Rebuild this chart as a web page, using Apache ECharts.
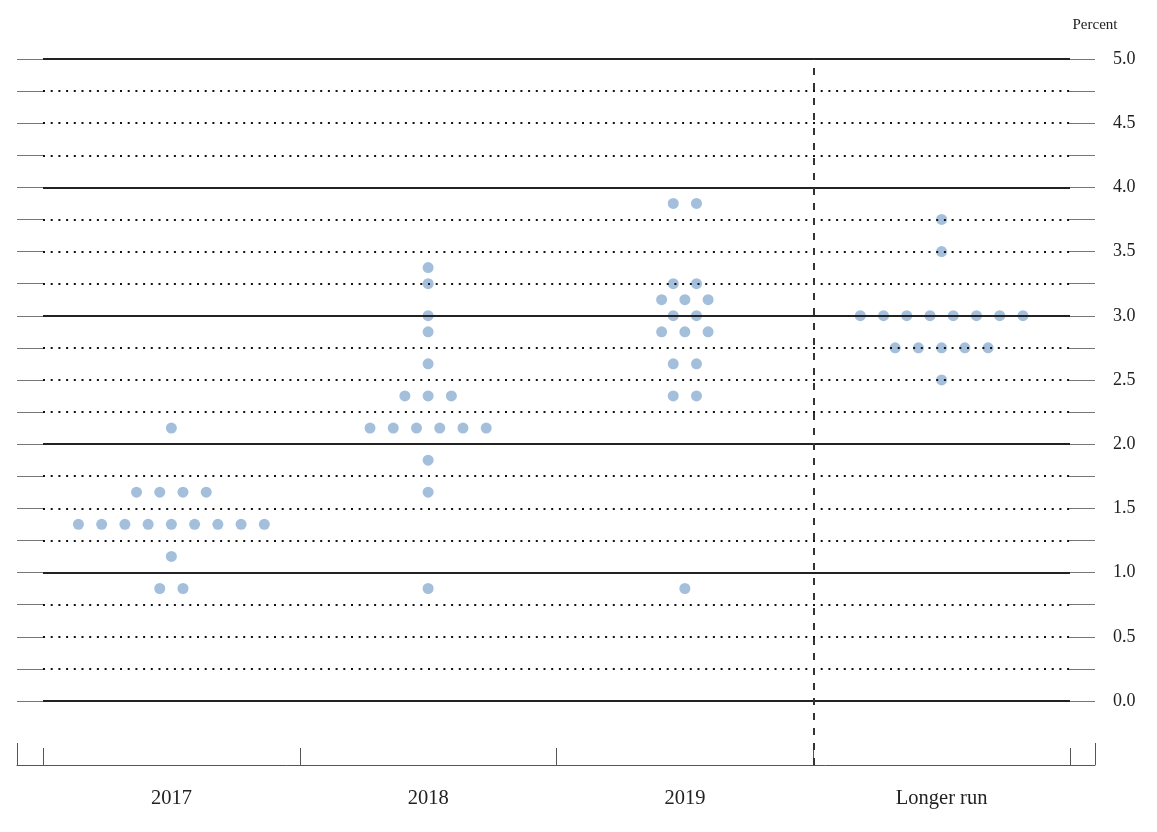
<!DOCTYPE html>
<html>
<head>
<meta charset="utf-8">
<script src="https://cdn.jsdelivr.net/npm/echarts@6/dist/echarts.min.js"></script>
<style>
html,body{margin:0;padding:0;background:#fff;}
#chart{width:1157px;height:832px;}
</style>
</head>
<body>
<div id="chart"></div>
<script>
// ---- Data ----
const categories = ['2017', '2018', '2019', 'Longer run'];
// Each entry is one participant's projection (midpoint of target range), percent
const dots2017 = [2.125,
  1.625, 1.625, 1.625, 1.625,
  1.375, 1.375, 1.375, 1.375, 1.375, 1.375, 1.375, 1.375, 1.375,
  1.125,
  0.875, 0.875];
const dots2018 = [3.375, 3.25, 3.0, 2.875, 2.625,
  2.375, 2.375, 2.375,
  2.125, 2.125, 2.125, 2.125, 2.125, 2.125,
  1.875, 1.625, 0.875];
const dots2019 = [3.875, 3.875,
  3.25, 3.25,
  3.125, 3.125, 3.125,
  3.0, 3.0,
  2.875, 2.875, 2.875,
  2.625, 2.625,
  2.375, 2.375,
  0.875];
const dotsLongerRun = [3.75, 3.5,
  3.0, 3.0, 3.0, 3.0, 3.0, 3.0, 3.0, 3.0,
  2.75, 2.75, 2.75, 2.75, 2.75,
  2.5];
const yTickLabels = ['0.0', '0.5', '1.0', '1.5', '2.0', '2.5', '3.0', '3.5', '4.0', '4.5', '5.0'];
const solidLevels = [0, 1, 2, 3, 4, 5];
const dottedLevels = [0.25, 0.5, 0.75, 1.25, 1.5, 1.75, 2.25, 2.5, 2.75,
  3.25, 3.5, 3.75, 4.25, 4.5, 4.75];
const dividerPosition = 3; // between 2019 and Longer run

// ---- Layout / style constants ----
const DOT_SPACING = 0.0905; // in category units
const FONT = '"Liberation Serif", "DejaVu Serif", serif';
const DOT_COLOR = '#8cafd3';

function spread(values, catIndex) {
  const counts = {}, seen = {};
  values.forEach(v => { counts[v] = (counts[v] || 0) + 1; });
  return values.map(v => {
    const i = seen[v] || 0; seen[v] = i + 1;
    const n = counts[v];
    return [catIndex + 0.5 + (i - (n - 1) / 2) * DOT_SPACING, v];
  });
}
const allDots = [dots2017, dots2018, dots2019, dotsLongerRun]
  .map((arr, k) => spread(arr, k)).flat();

const chart = echarts.init(document.getElementById('chart'), null, {renderer: 'canvas'});
const noAxis = {axisLine: {show: false}, axisTick: {show: false}, axisLabel: {show: false}, splitLine: {show: false}};
const sideTicks = {axisLine: {show: false},
  axisTick: {show: true, inside: true, length: 26, lineStyle: {color: '#777', width: 1}},
  splitLine: {show: false}};
const mlBase = {silent: true, symbol: ['none', 'none'], label: {show: false}, animation: false};

chart.setOption({
  animation: false,
  backgroundColor: '#fff',
  grid: [
    {left: 43, right: 87, top: 59, bottom: 67},   // plot
    {left: 17, right: 62, top: 59, bottom: 67},   // outer frame (bottom axis)
    {left: 17, right: 62, top: 59, bottom: 131}   // side ticks 0..5
  ],
  xAxis: [
    Object.assign({type: 'value', gridIndex: 0, min: 0, max: 4, interval: 1, show: false}, noAxis),
    {type: 'category', gridIndex: 0, data: categories, position: 'bottom',
     axisLine: {show: false, onZero: false},
     axisTick: {show: true, inside: true, length: 17, lineStyle: {color: '#555', width: 1}},
     axisLabel: {fontFamily: FONT, fontSize: 20.5, color: '#222', margin: 23},
     splitLine: {show: false}},
    {type: 'value', gridIndex: 1, min: 0, max: 1, interval: 1, position: 'bottom',
     axisLine: {show: true, onZero: false, lineStyle: {color: '#555', width: 1}},
     axisTick: {show: true, inside: true, length: 22, lineStyle: {color: '#555', width: 1}},
     axisLabel: {show: false}, splitLine: {show: false}},
    Object.assign({type: 'value', gridIndex: 2, min: 0, max: 1, show: false}, noAxis)
  ],
  yAxis: [
    Object.assign({type: 'value', gridIndex: 0, min: -0.5, max: 5, show: false}, noAxis),
    Object.assign({type: 'value', gridIndex: 1, min: -0.5, max: 5, show: false}, noAxis),
    Object.assign({type: 'value', gridIndex: 2, position: 'left', min: 0, max: 5, interval: 0.25,
     axisLabel: {show: false}}, sideTicks),
    Object.assign({type: 'value', gridIndex: 2, position: 'right', min: 0, max: 5, interval: 0.25,
     name: 'Percent', nameLocation: 'end', nameGap: 26,
     nameTextStyle: {fontFamily: FONT, fontSize: 15, color: '#222', align: 'center'},
     axisLabel: {show: true, fontFamily: FONT, fontSize: 18, color: '#222', margin: 18,
       formatter: v => {
         const s = v.toFixed(1);
         return (Math.abs(v * 2 - Math.round(v * 2)) < 1e-9 && yTickLabels.indexOf(s) >= 0) ? s : '';
       }}}, sideTicks)
  ],
  series: [
    {
      type: 'scatter', xAxisIndex: 0, yAxisIndex: 0, z: 1,
      symbol: 'circle', symbolSize: 11,
      itemStyle: {color: DOT_COLOR},
      data: allDots, silent: true
    },
    {
      type: 'scatter', xAxisIndex: 0, yAxisIndex: 0, z: 5, data: [], silent: true,
      markLine: Object.assign({}, mlBase, {
        lineStyle: {type: [2, 5.7], width: 2, color: '#111'},
        data: dottedLevels.map(v => ({yAxis: v}))
      })
    },
    {
      type: 'scatter', xAxisIndex: 0, yAxisIndex: 0, z: 6, data: [], silent: true,
      markLine: Object.assign({}, mlBase, {
        lineStyle: {type: 'solid', width: 2, color: '#222'},
        data: solidLevels.map(v => ({yAxis: v}))
      })
    },
    {
      type: 'scatter', xAxisIndex: 0, yAxisIndex: 0, z: 7, data: [], silent: true,
      markLine: Object.assign({}, mlBase, {
        lineStyle: {type: [7, 8], width: 2, color: '#333'},
        data: [{xAxis: dividerPosition}]
      })
    }
  ]
});
</script>
</body>
</html>
